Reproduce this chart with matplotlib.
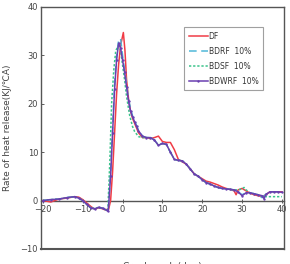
import matplotlib
matplotlib.use("Agg")
import matplotlib.pyplot as plt

# ---- data ----
df_x = [-20, -18, -16, -14, -12, -11, -10, -9, -8, -7, -6, -5, -4.5, -3.5, -3, -2.5, -2, -1.5, -1, -0.5, 0.2, 0.6, 1, 1.5, 2, 2.5, 3, 4, 5, 6, 7, 8, 9, 10, 11, 12, 13, 14, 15, 16, 17, 18, 19, 20, 21, 22, 23, 24, 25, 26, 27, 28, 28.5, 29, 30, 31, 32, 33, 34, 35, 36, 37, 38, 39, 40]
df_y = [0, -0.3, 0.3, 0.5, 0.8, 0.7, 0.2, -0.5, -1.2, -1.8, -1.5, -1.7, -1.9, -1.8, 0, 6, 14, 22, 28, 32, 34.7, 31, 25, 21, 18.5, 17, 16, 14, 13, 13, 12.8, 13, 13.3, 12.2, 12, 12, 10.5, 8.5, 8, 7.5, 6.5, 5.5, 5, 4.5, 4, 3.8, 3.5, 3.2, 2.8, 2.5, 2.3, 2.0, 1.2, 2.2, 2.5, 2.0, 1.5, 1.2, 1.0, 0.8, 1.2, 1.8, 1.8, 1.8, 1.8]

bdrf_x = [-20, -18, -16, -14, -12, -11, -10, -9, -8, -7, -6, -5, -4, -3.6, -3, -2.5, -2, -1.5, -1, -0.5, 0, 0.5, 1, 1.5, 2, 2.5, 3, 3.5, 4, 5, 6, 7, 8, 9, 10, 11, 12, 13, 14, 15, 16, 17, 18, 19, 20, 21, 22, 23, 24, 25, 26, 27, 28, 29, 30, 31, 32, 33, 34, 35, 36, 37, 38, 39, 40]
bdrf_y = [0, 0.2, 0.3, 0.6, 0.8, 0.5, 0, -0.8, -1.5, -1.7, -1.4, -1.6, -2, -2.1, 6, 15, 24, 30, 33, 33.5, 30, 27, 24, 21, 19, 17.5, 16.5, 15.5, 14.5, 13.3, 13, 13, 12.5, 11.4, 11.8, 11.6, 10, 8.5, 8.3, 8.2, 7.5, 6.5, 5.5, 5, 4.3, 3.7, 3.4, 3, 2.7, 2.5, 2.4, 2.3, 2.2, 1.8, 1.2, 1.6, 1.6, 1.4, 1.2, 0.6, 1.3, 1.8, 1.8, 1.8, 1.7]

bdsf_x = [-20, -18, -16, -14, -12, -11, -10, -9, -8, -7, -6, -5, -4, -3.7, -3.2, -2.75, -2.2, -1.7, -1, -0.5, 0, 0.5, 1, 1.8, 2.5, 3, 4, 5, 6, 7, 8, 9, 10, 11, 12, 13, 14, 15, 16, 17, 18, 19, 20, 21, 22, 23, 24, 25, 26, 27, 28, 29, 30, 30.5, 31, 32, 33, 34, 35, 36, 37, 38, 39, 40]
bdsf_y = [0, 0.2, 0.3, 0.6, 0.8, 0.5, 0, -0.8, -1.5, -1.7, -1.4, -1.6, -2, -2.1, 8, 20, 27, 31, 32, 31, 28, 25, 21.5, 17.5, 15.3, 14.3, 13.2, 13, 13, 13, 12.5, 11.4, 11.8, 11.6, 10, 8.5, 8.3, 8.2, 7.5, 6.5, 5.5, 5, 4.3, 3.7, 3.4, 3, 2.7, 2.5, 2.4, 2.3, 2.2, 2.2, 2.4, 2.7, 2.2, 1.6, 1.4, 1.2, 0.9, 0.8, 0.8, 0.8, 0.8, 0.8]

bdwrf_x = [-20, -18, -16, -14, -12, -11, -10, -9, -8, -7, -6, -5, -4, -3.6, -3, -2.5, -2, -1.5, -1, -0.5, 0, 0.5, 1, 1.5, 2, 2.5, 3, 3.5, 4, 5, 6, 7, 8, 9, 10, 11, 12, 13, 14, 15, 16, 17, 18, 19, 20, 21, 22, 23, 24, 25, 26, 27, 28, 29, 30, 31, 32, 33, 34, 35, 35.5, 36, 37, 38, 39, 40]
bdwrf_y = [0, 0.2, 0.3, 0.6, 0.8, 0.5, 0, -0.8, -1.5, -1.7, -1.4, -1.6, -2, -2.2, 5, 14, 23, 29, 32.5, 31.5, 29, 26.5, 23.5, 20.5, 18.5, 17.3, 16.3, 15.3, 14.4, 13.3, 13, 13, 12.5, 11.4, 11.8, 11.6, 10, 8.5, 8.3, 8.2, 7.5, 6.5, 5.5, 5, 4.3, 3.7, 3.4, 3, 2.7, 2.5, 2.4, 2.3, 2.2, 1.8, 1.0, 1.6, 1.6, 1.4, 1.2, 1.0, 0.4, 1.3, 1.8, 1.8, 1.8, 1.7]

labels = ["DF", "BDRF  10%", "BDSF  10%", "BDWRF  10%"]
xticks = [-20, -10, 0, 10, 20, 30, 40]
yticks = [-10, 0, 10, 20, 30, 40]

# ---- figure ----
fig = plt.figure(figsize=(2.9, 2.64), dpi=100)
ax = fig.add_axes([0.141, 0.057, 0.838, 0.917])
frame = "#555555"

ax.plot(df_x, df_y, color="#f03c46", lw=1.1, label=labels[0], zorder=3)
ax.plot(bdrf_x, bdrf_y, color="#4fb8d8", lw=1.1, ls=(0, (5, 3)), label=labels[1], zorder=4)
ax.plot(bdsf_x, bdsf_y, color="#3cc48c", lw=1.1, ls=(0, (1.5, 1.2)), label=labels[2], zorder=4)
ax.plot(bdwrf_x, bdwrf_y, color="#6a3fb0", lw=1.1, marker=".", ms=1.4, label=labels[3], zorder=5)

ax.set_xlim(-20.5, 40.5)
ax.set_ylim(-10, 40)
ax.set_xticks(xticks)
ax.set_yticks(yticks)
ax.set_xticklabels([("−" + str(-t)) if t < 0 else str(t) for t in xticks])
ax.set_yticklabels([("−" + str(-t)) if t < 0 else str(t) for t in yticks])

for s in ["top", "right", "left", "bottom"]:
    ax.spines[s].set_color(frame)
    ax.spines[s].set_linewidth(1.0)
ax.spines["bottom"].set_position(("data", 0))
ax.axhline(-10, color=frame, lw=1.5, clip_on=False, zorder=6)

ax.tick_params(axis="both", labelsize=6, colors="#444444", length=2.5, width=0.6,
               direction="in", pad=2)
ax.tick_params(axis="x", direction="inout", length=3)

ax.set_ylabel("Rate of heat release(KJ/℃A)", fontsize=6.5, color="#444444", labelpad=6)
ax.set_xlabel("Crank angle(deg)", fontsize=6.5, color="#444444")
ax.xaxis.set_label_coords(0.5, -0.055)

leg = ax.legend(loc="upper right", bbox_to_anchor=(0.914, 0.917), fontsize=5.5,
                frameon=True, fancybox=False, handlelength=2.5, handletextpad=0.1,
                borderpad=0.6, labelspacing=0.8, borderaxespad=0)
leg.get_frame().set_edgecolor("#888888")
leg.get_frame().set_linewidth(0.8)
for t in leg.get_texts():
    t.set_color("#333333")

fig.savefig("out.png", dpi=100)
